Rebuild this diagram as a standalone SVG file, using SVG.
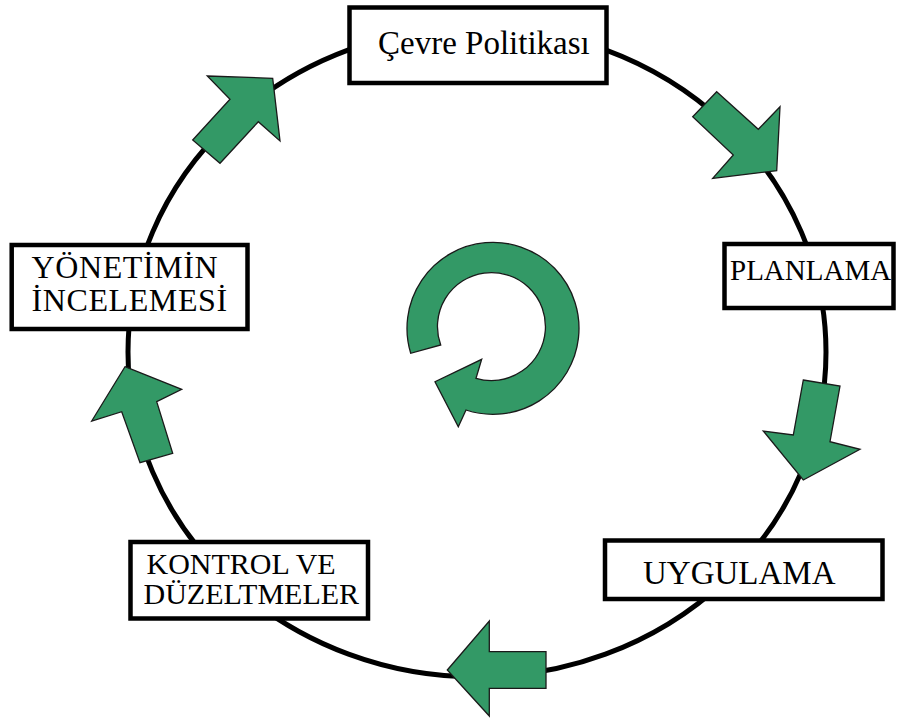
<svg xmlns="http://www.w3.org/2000/svg" width="898" height="718" viewBox="0 0 898 718">
<style>
.box{fill:#fff;stroke:#000;stroke-width:4.5}
.lbl{font-family:"Liberation Serif","Times New Roman",serif;fill:#000}
.arr{fill:#339966;stroke:#1a1a1a;stroke-width:1.3;stroke-linejoin:miter}
</style>
<rect width="898" height="718" fill="#fff"/>
<g id="connectors">
<ellipse cx="477" cy="352" rx="349" ry="325" fill="none" stroke="#000" stroke-width="5"/>
<polygon class="arr" points="716.7,91.7 758.3,129.3 780,106.7 776.7,170.7 712.7,178.3 733.3,155 692.7,116.7"/>
<polygon class="arr" points="803.3,380 840,386 830,441.7 860,449.3 803.3,480 763.3,431 793.3,435"/>
<polygon class="arr" points="447.3,670 489.3,621 489.3,651.7 546,651.7 546,688.3 489.3,688.3 489.3,716"/>
<polygon class="arr" points="125,366.7 181.7,389.3 156.7,401.7 172.7,453.3 140,462.7 121.7,411.7 91.7,421"/>
<polygon class="arr" points="207.3,76 272.7,78.3 280,141 258.3,121.7 220,163.3 192.7,140 230,99.3"/>
</g>
<g id="cycle">
<path class="arr" d="M410.7,353.3 A86,86 0 1 1 466,410 L458.3,426.7 L435,381.7 L481.7,359.3 L476,378.3 A54,54 0 1 0 440.7,345 Z"/>
</g>
<g id="cevre">
<rect class="box" x="349.5" y="7.5" width="257" height="75.5"/>
<text class="lbl" x="378" y="53.5" font-size="33">Çevre Politikası</text>
</g>
<g id="planlama">
<rect class="box" x="724.5" y="244" width="169" height="64"/>
<text class="lbl" x="730" y="280" font-size="29">PLANLAMA</text>
</g>
<g id="uygulama">
<rect class="box" x="605" y="540.5" width="277.5" height="58.5"/>
<text class="lbl" x="643" y="583.5" font-size="33">UYGULAMA</text>
</g>
<g id="kontrol">
<rect class="box" x="130.5" y="542" width="237.5" height="76.5"/>
<text class="lbl" font-size="30"><tspan x="146.5" y="573.5">KONTROL VE</tspan><tspan x="143.5" y="603.5">DÜZELTMELER</tspan></text>
</g>
<g id="yonetim">
<rect class="box" x="11.7" y="245" width="235.8" height="84"/>
<text class="lbl" font-size="32" letter-spacing="0.6"><tspan x="31.5" y="277.5">YÖNETİMİN</tspan><tspan x="31.5" y="311">İNCELEMESİ</tspan></text>
</g>
</svg>
